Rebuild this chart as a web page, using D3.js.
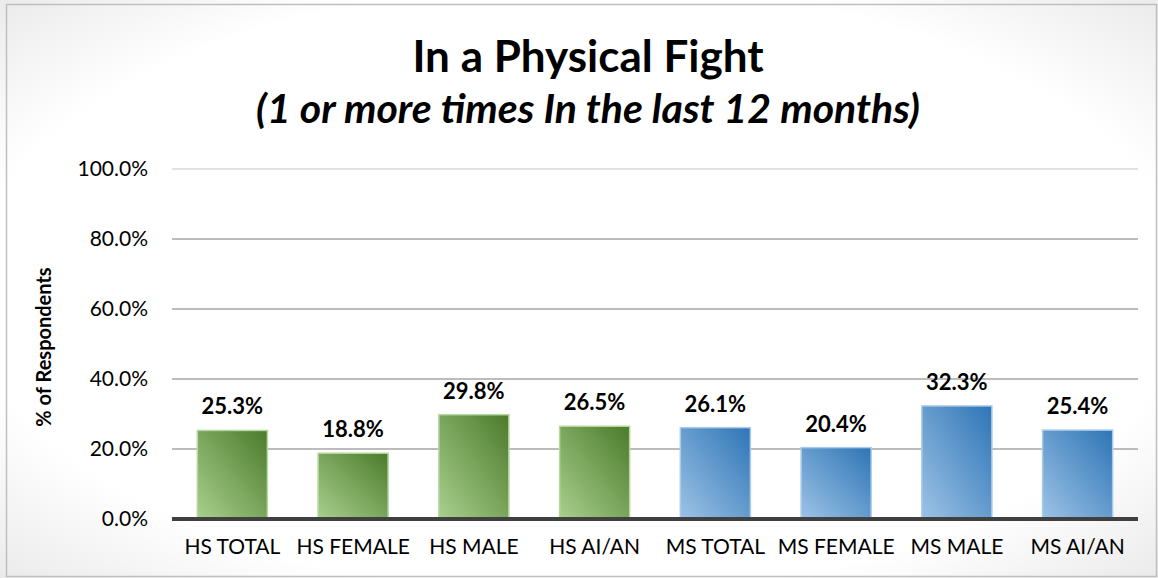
<!DOCTYPE html>
<html>
<head>
<meta charset="utf-8">
<script src="https://cdn.jsdelivr.net/npm/d3@7"></script>
<style>
  body { margin: 0; background: #fff; }
  svg { display: block; font-family: Lato, "Open Sans", sans-serif; }
</style>
</head>
<body>
<div id="chart"></div>
<script>
var width = 1158, height = 578;

// data
var categories = ["HS TOTAL", "HS FEMALE", "HS MALE", "HS AI/AN", "MS TOTAL", "MS FEMALE", "MS MALE", "MS AI/AN"];
var values = [25.3, 18.8, 29.8, 26.5, 26.1, 20.4, 32.3, 25.4];
var groups = ["HS", "HS", "HS", "HS", "MS", "MS", "MS", "MS"];
var yTicks = [0, 20, 40, 60, 80, 100];

var margin = {top: 169, right: 20, bottom: 59, left: 172};
var plotW = 1138 - margin.left, plotH = 519 - margin.top;

var svg = d3.select("#chart").append("svg")
    .attr("width", width)
    .attr("height", height);

var defs = svg.append("defs");

// faint shading at the corners like the original picture
var vig = defs.append("radialGradient").attr("id", "vig")
    .attr("cx", "50%").attr("cy", "50%").attr("r", "75%");
vig.append("stop").attr("offset", "70%").attr("stop-color", "#fff");
vig.append("stop").attr("offset", "100%").attr("stop-color", "#e6e6e6");

// bar gradients: dark top-right, light bottom-left
var grads = {
    HS: {dark: "#4b7b2b", light: "#a9d08e", stroke: "#b5d7a0"},
    MS: {dark: "#2e75b6", light: "#9dc3e6", stroke: "#a9cbe9"}
};
Object.keys(grads).forEach(function (k) {
    var g = defs.append("linearGradient").attr("id", "grad" + k)
        .attr("x1", "100%").attr("y1", "0%").attr("x2", "0%").attr("y2", "100%");
    g.append("stop").attr("offset", "0%").attr("stop-color", grads[k].dark);
    g.append("stop").attr("offset", "100%").attr("stop-color", grads[k].light);
});

svg.append("rect")
    .attr("x", 0).attr("y", 0).attr("width", width).attr("height", height)
    .attr("fill", "url(#vig)");
svg.append("rect")
    .attr("x", 6.5).attr("y", 4.5).attr("width", width - 8).attr("height", height - 6)
    .attr("fill", "none").attr("stroke", "#bfbfbf").attr("stroke-width", 1.5);

// titles
svg.append("text")
    .attr("x", 588).attr("y", 72)
    .attr("text-anchor", "middle")
    .attr("font-size", 44).attr("font-weight", "bold")
    .text("In a Physical Fight");
svg.append("text")
    .attr("x", 588).attr("y", 123)
    .attr("text-anchor", "middle")
    .attr("font-size", 41).attr("font-weight", "bold").attr("font-style", "italic")
    .text("(1 or more times In the last 12 months)");

var g = svg.append("g").attr("transform", "translate(" + margin.left + "," + margin.top + ")");

var x = d3.scaleBand().domain(categories).range([0, plotW]).paddingInner(0.42).paddingOuter(0.21);
var y = d3.scaleLinear().domain([0, 100]).range([plotH, 0]);

// gridlines
g.selectAll(".grid").data(yTicks.filter(function (d) { return d > 0; }))
    .enter().append("line")
    .attr("x1", 0).attr("x2", plotW)
    .attr("y1", function (d) { return y(d); })
    .attr("y2", function (d) { return y(d); })
    .attr("stroke", function (d) { return d === 100 ? "#d9d9d9" : "#a6a6a6"; })
    .attr("stroke-width", 1.5);

// y labels
var yAxis = g.append("g").call(d3.axisLeft(y).tickValues(yTicks)
    .tickFormat(function (d) { return d.toFixed(1) + "%"; }).tickSize(0).tickPadding(24));
yAxis.select(".domain").remove();
yAxis.selectAll("text").attr("font-size", 21).attr("fill", "#000")
    .attr("font-family", "Lato, 'Open Sans', sans-serif");

// bars
g.selectAll(".bar").data(values).enter().append("rect")
    .attr("x", function (d, i) { return x(categories[i]); })
    .attr("y", function (d) { return y(d); })
    .attr("width", x.bandwidth())
    .attr("height", function (d) { return plotH - y(d); })
    .attr("fill", function (d, i) { return "url(#grad" + groups[i] + ")"; })
    .attr("stroke", function (d, i) { return grads[groups[i]].stroke; })
    .attr("stroke-width", 1.5);

// value labels
g.selectAll(".lbl").data(values).enter().append("text")
    .attr("x", function (d, i) { return x(categories[i]) + x.bandwidth() / 2; })
    .attr("y", function (d) { return y(d) - 16; })
    .attr("text-anchor", "middle")
    .attr("font-size", 22).attr("font-weight", "bold")
    .text(function (d) { return d.toFixed(1) + "%"; });

// x axis
var xAxis = g.append("g").attr("transform", "translate(0," + plotH + ")")
    .call(d3.axisBottom(x).tickSize(0).tickPadding(20));
xAxis.select(".domain").remove();
xAxis.selectAll("text").attr("font-size", 21).attr("fill", "#000")
    .attr("font-family", "Lato, 'Open Sans', sans-serif");
g.append("line")
    .attr("x1", 0).attr("x2", plotW)
    .attr("y1", plotH).attr("y2", plotH)
    .attr("stroke", "#404040").attr("stroke-width", 4);

// y title
svg.append("text")
    .attr("transform", "translate(51,347) rotate(-90)")
    .attr("text-anchor", "middle")
    .attr("font-size", 20).attr("font-weight", "bold")
    .text("% of Respondents");
</script>
</body>
</html>
